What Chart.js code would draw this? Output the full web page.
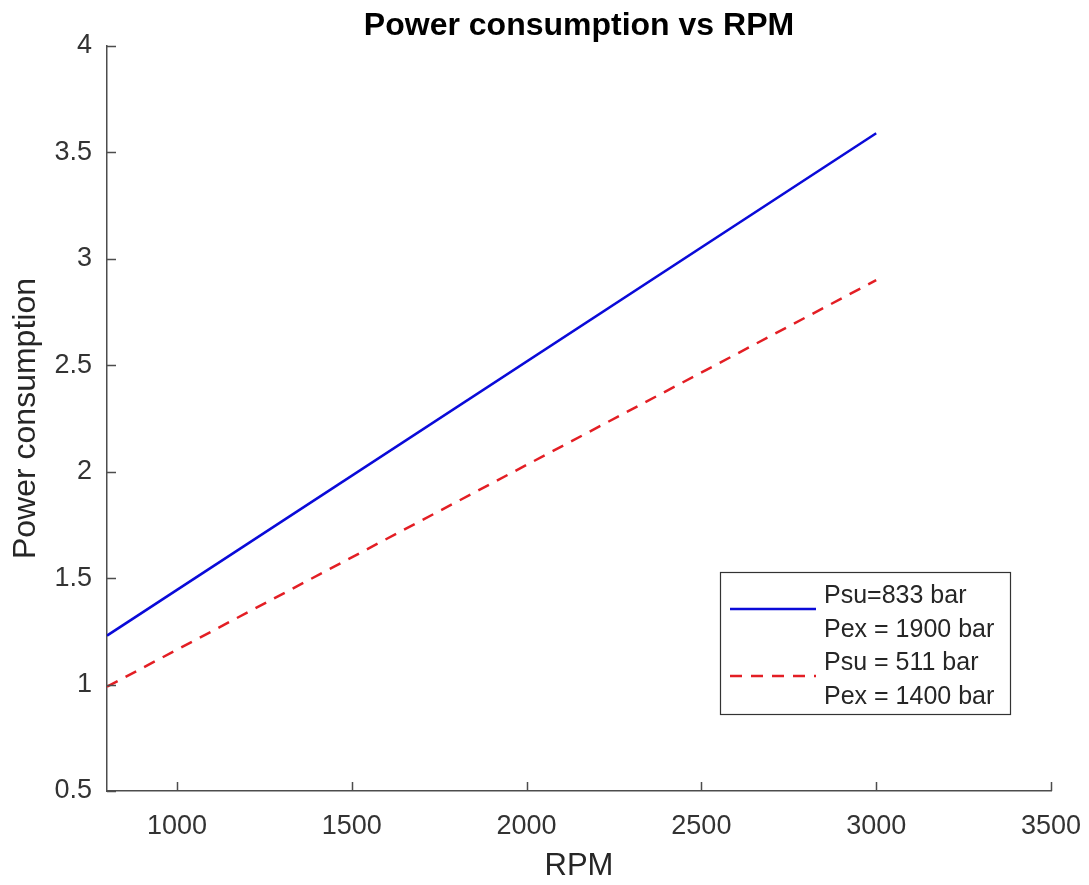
<!DOCTYPE html>
<html>
<head>
<meta charset="utf-8">
<script src="https://cdn.jsdelivr.net/npm/chart.js@4/dist/chart.umd.min.js"></script>
<style>
  html, body { margin: 0; padding: 0; background: #ffffff; }
  #wrap { width: 1089px; height: 885px; }
</style>
</head>
<body>
<div id="wrap"><canvas id="c" width="1089" height="885"></canvas></div>
<script>
// ---- data ----
const rpm = [800, 3000];
const powerHigh = [1.23, 3.59];   // Psu=833 bar, Pex = 1900 bar
const powerLow = [0.99, 2.90];    // Psu = 511 bar, Pex = 1400 bar
const labelHigh = ['Psu=833 bar', 'Pex = 1900 bar'];
const labelLow = ['Psu = 511 bar', 'Pex = 1400 bar'];
const xTicks = [1000, 1500, 2000, 2500, 3000, 3500];
const yTicks = [0.5, 1, 1.5, 2, 2.5, 3, 3.5, 4];
const titleText = 'Power consumption vs RPM';
const xTitle = 'RPM';
const yTitle = 'Power consumption';

const FONT = '"Liberation Sans", Arial, Helvetica, sans-serif';
const AXIS_COLOR = '#4d4d4d';
const TEXT_COLOR = '#262626';

const toPoints = (xs, ys) => xs.map((x, i) => ({ x: x, y: ys[i] }));

// title centred over the plot area (MATLAB style)
const axesTitle = {
  id: 'axesTitle',
  afterDraw(chart) {
    const { ctx, chartArea } = chart;
    ctx.save();
    ctx.fillStyle = '#000000';
    ctx.font = 'bold 32px ' + FONT;
    ctx.textAlign = 'center';
    ctx.textBaseline = 'alphabetic';
    ctx.fillText(titleText, (chartArea.left + chartArea.right) / 2, 35);
    ctx.restore();
  }
};

// inward tick marks drawn through the scales
const inwardTicks = {
  id: 'inwardTicks',
  afterDatasetsDraw(chart) {
    const { ctx, chartArea } = chart;
    const xs = chart.scales.x, ys = chart.scales.y;
    ctx.save();
    ctx.strokeStyle = AXIS_COLOR;
    ctx.lineWidth = 1.5;
    ctx.beginPath();
    xTicks.forEach(v => {
      const px = Math.round(xs.getPixelForValue(v)) + 0.5;
      ctx.moveTo(px, chartArea.bottom);
      ctx.lineTo(px, chartArea.bottom - 9);
    });
    yTicks.forEach(v => {
      const py = Math.round(ys.getPixelForValue(v)) + 0.5;
      ctx.moveTo(chartArea.left, py);
      ctx.lineTo(chartArea.left + 9, py);
    });
    ctx.stroke();
    ctx.restore();
  }
};

// MATLAB-style legend box with two-line entries
const boxLegend = {
  id: 'boxLegend',
  afterDraw(chart) {
    const { ctx } = chart;
    const bx = 720, by = 572, bw = 290, bh = 142;
    ctx.save();
    ctx.fillStyle = '#ffffff';
    ctx.fillRect(bx, by, bw, bh);
    ctx.strokeStyle = '#333333';
    ctx.lineWidth = 1.2;
    ctx.strokeRect(bx + 0.5, by + 0.5, bw, bh);
    const entries = chart.data.datasets;
    const sampleY = [609, 676];
    const baselines = [[603, 637], [670, 704]];
    entries.forEach((ds, i) => {
      ctx.strokeStyle = ds.borderColor;
      ctx.lineWidth = ds.borderWidth;
      ctx.setLineDash(ds.borderDash || []);
      ctx.beginPath();
      ctx.moveTo(730, sampleY[i]);
      ctx.lineTo(816, sampleY[i]);
      ctx.stroke();
      ctx.setLineDash([]);
      ctx.fillStyle = TEXT_COLOR;
      ctx.font = '25px ' + FONT;
      ctx.textBaseline = 'alphabetic';
      ctx.textAlign = 'left';
      ds.legendLines.forEach((t, j) => ctx.fillText(t, 824, baselines[i][j]));
    });
    ctx.restore();
  }
};

new Chart(document.getElementById('c'), {
  type: 'line',
  data: {
    datasets: [
      {
        label: labelHigh.join(' '),
        legendLines: labelHigh,
        data: toPoints(rpm, powerHigh),
        borderColor: '#0a0ad8',
        borderWidth: 2.5,
        pointRadius: 0,
        fill: false,
        tension: 0
      },
      {
        label: labelLow.join(' '),
        legendLines: labelLow,
        data: toPoints(rpm, powerLow),
        borderColor: '#e31e24',
        borderWidth: 2.5,
        borderDash: [12, 9],
        pointRadius: 0,
        fill: false,
        tension: 0
      }
    ]
  },
  options: {
    responsive: false,
    animation: false,
    devicePixelRatio: 1,
    layout: { padding: { left: 0, right: 38, top: 46, bottom: 0 } },
    plugins: {
      legend: { display: false },
      tooltip: { enabled: false },
      title: { display: false }
    },
    scales: {
      x: {
        type: 'linear',
        min: 800,
        max: 3500,
        afterBuildTicks: s => { s.ticks = xTicks.map(v => ({ value: v })); },
        afterFit: s => { s.height = 94; s.paddingLeft = 0; s.paddingRight = 0; },
        ticks: {
          color: '#333333',
          font: { family: FONT, size: 27 },
          padding: 19,
          maxRotation: 0,
          autoSkip: false,
          callback: v => String(v)
        },
        grid: { display: true, drawOnChartArea: false, drawTicks: false },
        border: { display: true, color: AXIS_COLOR, width: 1.5 },
        title: {
          display: true,
          text: xTitle,
          color: TEXT_COLOR,
          font: { family: FONT, size: 31, lineHeight: 1.2 },
          padding: { top: 0, bottom: 0 }
        }
      },
      y: {
        type: 'linear',
        min: 0.5,
        max: 4,
        afterBuildTicks: s => { s.ticks = yTicks.map(v => ({ value: v })); },
        afterFit: s => { s.width = 107; s.paddingTop = 0; s.paddingBottom = 0; },
        ticks: {
          color: '#333333',
          font: { family: FONT, size: 27 },
          padding: 15,
          autoSkip: false,
          callback: v => String(v)
        },
        grid: { display: true, drawOnChartArea: false, drawTicks: false },
        border: { display: true, color: AXIS_COLOR, width: 1.5 },
        title: {
          display: true,
          text: yTitle,
          color: TEXT_COLOR,
          font: { family: FONT, size: 32, lineHeight: 1.2 },
          padding: { top: 7, bottom: 0 }
        }
      }
    }
  },
  plugins: [axesTitle, inwardTicks, boxLegend]
});
</script>
</body>
</html>
